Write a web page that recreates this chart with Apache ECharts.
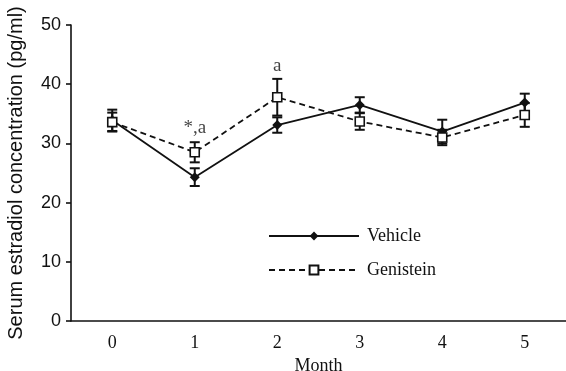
<!DOCTYPE html>
<html><head><meta charset="utf-8">
<script src="https://cdn.jsdelivr.net/npm/echarts@6/dist/echarts.min.js"></script>
<style>html,body{margin:0;padding:0;background:#fff}#c{width:566px;height:371px}</style>
</head><body><div id="c"></div>
<script>
const months = ['0','1','2','3','4','5'];
const vehicleMean = [33.9, 24.3, 33.1, 36.5, 32.0, 36.9];
const vehicleErr  = [1.8, 1.5, 1.3, 1.3, 2.0, 1.5];
const genisteinMean = [33.6, 28.5, 37.8, 33.7, 31.0, 34.8];
const genisteinErr  = [1.6, 1.7, 3.1, 1.4, 1.3, 2.0];
const annotMonths = ['1','2'];
const annotY = [32.6, 43.0];
const annotText = ['*,a','a'];

const serif = 'Liberation Serif';
const sans = 'Liberation Sans';
const ink = '#111';

function errSeries(name, mean, err){
  return {
    type:'custom', name: name+'err', z:1, silent:true,
    data: months.map((m,i)=>[i, mean[i]-err[i], mean[i]+err[i]]),
    renderItem(params, api){
      const x = api.value(0);
      const lo = api.coord([x, api.value(1)]);
      const hi = api.coord([x, api.value(2)]);
      const w = 5;
      const st = {stroke: ink, lineWidth: 2};
      return {type:'group', children:[
        {type:'line', shape:{x1:lo[0],y1:lo[1],x2:hi[0],y2:hi[1]}, style:st},
        {type:'line', shape:{x1:lo[0]-w,y1:lo[1],x2:lo[0]+w,y2:lo[1]}, style:st},
        {type:'line', shape:{x1:hi[0]-w,y1:hi[1],x2:hi[0]+w,y2:hi[1]}, style:st}
      ]};
    }
  };
}

const chart = echarts.init(document.getElementById('c'), null, {renderer:'canvas'});
chart.setOption({
  animation:false,
  backgroundColor:'#fff',
  grid:{left:71, right:0, top:25, bottom:50, containLabel:false, outerBoundsMode:'none'},
  legend:{
    orient:'vertical', left:263, top:222, itemWidth:90, itemHeight:11, itemGap:16,
    data:['Vehicle','Genistein'],
    textStyle:{fontFamily:serif, fontSize:18, color:ink, padding:[0,0,0,3]}
  },
  xAxis:{
    type:'category', data:months, boundaryGap:true,
    name:'Month', nameLocation:'middle', nameGap:30,
    nameTextStyle:{fontFamily:serif, fontSize:18, color:ink},
    axisLine:{lineStyle:{color:ink, width:1.6}},
    axisTick:{alignWithLabel:true, length:4, lineStyle:{color:ink, width:1.6}},
    axisLabel:{fontFamily:serif, fontSize:18, color:ink, margin:13},
    splitLine:{show:false}
  },
  yAxis:{
    type:'value', min:0, max:50, interval:10,
    name:'Serum estradiol concentration (pg/ml)', nameLocation:'middle', nameGap:45,
    nameTextStyle:{fontFamily:sans, fontSize:20, color:ink},
    axisLine:{show:true, lineStyle:{color:ink, width:1.6}},
    axisTick:{show:true, length:5, lineStyle:{color:ink, width:1.6}},
    axisLabel:{fontFamily:sans, fontSize:18, color:ink, margin:10},
    splitLine:{show:false}
  },
  series:[
    errSeries('Vehicle', vehicleMean, vehicleErr),
    errSeries('Genistein', genisteinMean, genisteinErr),
    {
      name:'Vehicle', type:'line', data:vehicleMean, z:3,
      symbol:'diamond', symbolSize:10, itemStyle:{color:ink},
      lineStyle:{color:ink, width:1.8, type:'solid'}
    },
    {
      name:'Genistein', type:'line', data:genisteinMean, z:4,
      symbol:'rect', symbolSize:9, itemStyle:{color:'#fff', borderColor:ink, borderWidth:1.6},
      lineStyle:{color:ink, width:1.8, type:[6,4]}
    },
    {
      type:'scatter', silent:true, symbolSize:1, itemStyle:{color:'rgba(0,0,0,0)'},
      data: annotMonths.map((m,i)=>({value:[m, annotY[i]], label:{formatter:annotText[i]}})),
      label:{show:true, position:'inside', fontFamily:serif, fontSize:19, color:ink}
    }
  ]
});
</script></body></html>
